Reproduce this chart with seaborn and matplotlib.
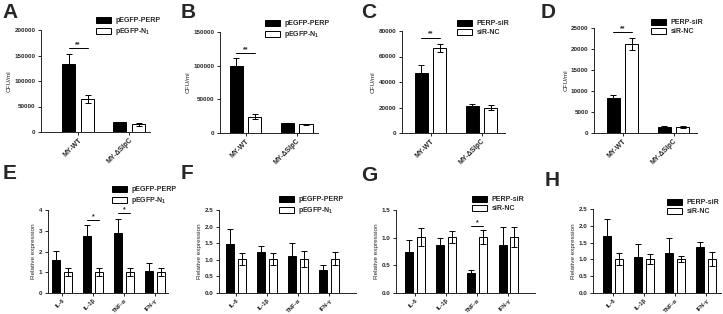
import numpy as np
import pandas as pd
import seaborn as sns
from matplotlib import pyplot as plt

sns.set_style("ticks")
plt.rcParams['font.family'] = ['Liberation Sans', 'DejaVu Sans']
plt.rcParams['font.weight'] = 'bold'
plt.rcParams['mathtext.fontset'] = 'custom'
plt.rcParams['mathtext.rm'] = 'Liberation Sans:bold'
plt.rcParams['mathtext.bf'] = 'Liberation Sans:bold'

W, H = 723, 314

strains = ['MY-WT', 'MY-ΔSlpC']
cytokines = ['IL-6', 'IL-1β', 'TNF-α', 'IFN-γ']
over_labels = ['pEGFP-PERP', r'pEGFP-N$_\mathbf{1}$']
si_labels = ['PERP-siR', 'siR-NC']

# CFU/ml, top row
a_perp = [133500, 18900]; a_perp_err = [19000, 1500]
a_n1 = [64500, 14800]; a_n1_err = [7500, 2200]
b_perp = [99000, 14500]; b_perp_err = [12000, 700]
b_n1 = [24500, 13000]; b_n1_err = [3500, 800]
c_perp = [47000, 21400]; c_perp_err = [6500, 1300]
c_nc = [66900, 20000]; c_nc_err = [3100, 2100]
d_perp = [8450, 1450]; d_perp_err = [700, 200]
d_nc = [21200, 1500]; d_nc_err = [1500, 280]

# relative expression, bottom row
e_perp = [1.6, 2.75, 2.9, 1.08]; e_perp_err = [0.42, 0.55, 0.65, 0.37]
e_n1 = [1.02, 1.02, 1.02, 1.02]; e_n1_err = [0.2, 0.2, 0.2, 0.2]
f_perp = [1.47, 1.22, 1.11, 0.68]; f_perp_err = [0.46, 0.19, 0.40, 0.17]
f_n1 = [1.01, 1.03, 1.03, 1.03]; f_n1_err = [0.18, 0.18, 0.24, 0.2]
g_perp = [0.75, 0.87, 0.36, 0.86]; g_perp_err = [0.2, 0.12, 0.06, 0.34]
g_nc = [1.01, 1.01, 1.01, 1.01]; g_nc_err = [0.16, 0.11, 0.12, 0.18]
h_perp = [1.69, 1.07, 1.18, 1.38]; h_perp_err = [0.5, 0.38, 0.46, 0.14]
h_nc = [1.01, 1.01, 1.0, 1.02]; h_nc_err = [0.17, 0.14, 0.09, 0.21]

fig = plt.figure(figsize=(W / 100, H / 100), dpi=100)


def px_rect(l, r, t, b):
    return [l / W, 1 - b / H, (r - l) / W, (b - t) / H]


def panel(letter, box, xlim, ylim, yticks, groups, labels, v1, e1, v2, e2,
          ylabel, leg_xy, letter_xy, sig=None, tickfmt=None, xsize=5):
    ax = fig.add_axes(px_rect(*box))
    df = pd.DataFrame({'group': groups * 2,
                       'cond': [labels[0]] * len(groups) + [labels[1]] * len(groups),
                       'value': v1 + v2})
    sns.barplot(data=df, x='group', y='value', hue='cond', palette=['black', 'white'],
                edgecolor='black', linewidth=0.7, width=0.74, gap=0.31,
                errorbar=None, ax=ax)
    bars = list(ax.containers)
    errs = [e1, e2]
    for ci, cont in enumerate(bars):
        for bi, bar in enumerate(cont):
            ax.errorbar(bar.get_x() + bar.get_width() / 2, bar.get_height(),
                        yerr=errs[ci][bi], color='black', capsize=2.0,
                        elinewidth=0.7, capthick=0.7, zorder=3)
    if sig:
        for gi, y, txt in sig:
            x1 = bars[0][gi].get_x() + bars[0][gi].get_width() / 2
            x2 = bars[1][gi].get_x() + bars[1][gi].get_width() / 2
            ax.plot([x1, x2], [y, y], color='black', lw=0.7, clip_on=False)
            ax.text((x1 + x2) / 2, y, txt, ha='center', va='bottom', fontsize=5,
                    clip_on=False)
    ax.legend_.remove()
    handles = [bars[0][0], bars[1][0]]
    ax.legend(handles, labels, loc='upper left',
              bbox_to_anchor=(leg_xy[0] / W, 1 - leg_xy[1] / H),
              bbox_transform=fig.transFigure, frameon=False, fontsize=5,
              handlelength=2.2, handleheight=0.9, handletextpad=0.6,
              labelspacing=0.25, borderpad=0, borderaxespad=0)
    ax.set_xlim(*xlim)
    ax.set_ylim(*ylim)
    ax.set_yticks(yticks)
    if tickfmt:
        ax.set_yticklabels([tickfmt.format(t) for t in yticks])
    ax.set_xlabel('')
    ax.set_ylabel(ylabel, fontsize=4.6, labelpad=2)
    ax.tick_params(axis='y', labelsize=4.5, width=0.7, length=2.5, pad=1.5)
    ax.tick_params(axis='x', labelsize=xsize, width=0.7, length=2.5, pad=1)
    for lab in ax.get_xticklabels():
        lab.set_rotation(45)
        lab.set_ha('right')
        lab.set_rotation_mode('anchor')
    sns.despine(ax=ax)
    for s in ['left', 'bottom']:
        ax.spines[s].set_linewidth(0.7)
    fig.text(letter_xy[0] / W, 1 - letter_xy[1] / H, letter, fontsize=15,
             fontweight='bold', va='top', ha='left')
    return ax


panel('A', (41, 150, 30, 132), (-0.73, 1.41), (0, 200000),
      [0, 50000, 100000, 150000, 200000], strains, over_labels,
      a_perp, a_perp_err, a_n1, a_n1_err, 'CFU/ml', (96, 17), (2, 3),
      sig=[(0, 164000, '**')])
panel('B', (220, 318, 32, 133), (-0.5, 1.42), (0, 150000),
      [0, 50000, 100000, 150000], strains, over_labels,
      b_perp, b_perp_err, b_n1, b_n1_err, 'CFU/ml', (265, 20), (181, 3),
      sig=[(0, 119000, '**')])
panel('C', (402, 505, 31, 133), (-0.56, 1.46), (0, 80000),
      [0, 20000, 40000, 60000, 80000], strains, si_labels,
      c_perp, c_perp_err, c_nc, c_nc_err, 'CFU/ml', (457, 20), (361, 3),
      sig=[(0, 74800, '**')])
panel('D', (594, 697, 28, 133), (-0.56, 1.46), (0, 25000),
      [0, 5000, 10000, 15000, 20000, 25000], strains, si_labels,
      d_perp, d_perp_err, d_nc, d_nc_err, 'CFU/ml', (651, 19), (541, 3),
      sig=[(0, 24000, '**')])

panel('E', (48, 168, 210, 293), (-0.45, 3.42), (0, 4), [0, 1, 2, 3, 4],
      cytokines, over_labels, e_perp, e_perp_err, e_n1, e_n1_err,
      'Relative expression', (112, 186), (3, 164),
      sig=[(1, 3.5, '*'), (2, 3.85, '*')], xsize=4.2)
panel('F', (219, 356, 210, 293), (-0.55, 3.87), (0, 2.5),
      [0, 0.5, 1.0, 1.5, 2.0, 2.5], cytokines, over_labels,
      f_perp, f_perp_err, f_n1, f_n1_err, 'Relative expression', (279, 196),
      (181, 164), tickfmt='{:.1f}', xsize=4.2)
panel('G', (396, 535, 210, 293), (-0.6, 3.85), (0, 1.5),
      [0, 0.5, 1.0, 1.5], cytokines, si_labels,
      g_perp, g_perp_err, g_nc, g_nc_err, 'Relative expression', (472, 196),
      (361, 166), sig=[(2, 1.21, '*')], tickfmt='{:.1f}', xsize=4.2)
panel('H', (593, 721, 209, 293), (-0.65, 3.48), (0, 2.5),
      [0, 0.5, 1.0, 1.5, 2.0, 2.5], cytokines, si_labels,
      h_perp, h_perp_err, h_nc, h_nc_err, 'Relative expression', (667, 199),
      (545, 171), tickfmt='{:.1f}', xsize=4.2)

plt.savefig('out.png', dpi=100)
